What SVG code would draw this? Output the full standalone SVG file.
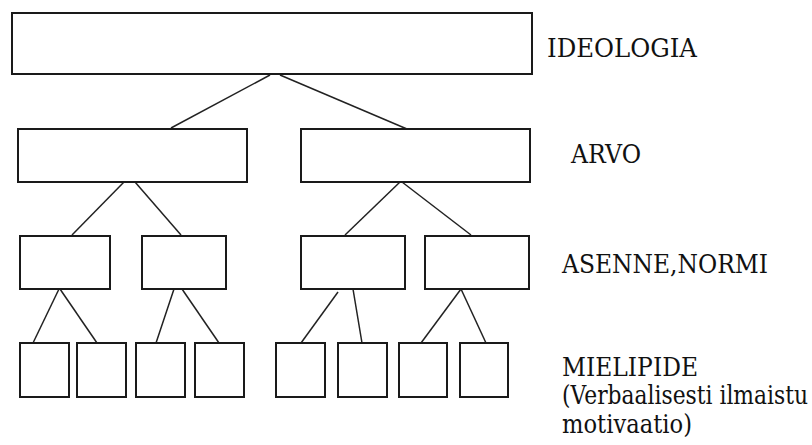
<svg xmlns="http://www.w3.org/2000/svg" width="812" height="445" viewBox="0 0 812 445">
<style>
.box{fill:#fff;stroke:#1a1a1a;stroke-width:2}
.con line{stroke:#222;stroke-width:1.5}
.lbl{font-size:26px;fill:#111}
</style>
<rect width="812" height="445" fill="#fff"/>
<g id="connectors" class="con">
<line x1="270" y1="75" x2="171" y2="128"/>
<line x1="280" y1="75" x2="407" y2="129"/>
<line x1="124" y1="182" x2="72" y2="235"/>
<line x1="135" y1="182" x2="181" y2="235"/>
<line x1="400" y1="182" x2="345" y2="235"/>
<line x1="402" y1="182" x2="471" y2="235"/>
<line x1="59" y1="289" x2="33" y2="343"/>
<line x1="60" y1="289" x2="97" y2="343"/>
<line x1="174" y1="289" x2="156" y2="343"/>
<line x1="182" y1="289" x2="219" y2="343"/>
<line x1="338" y1="292" x2="301" y2="343"/>
<line x1="353" y1="289" x2="362" y2="343"/>
<line x1="461" y1="289" x2="421" y2="343"/>
<line x1="461" y1="289" x2="486" y2="343"/>
</g>
<g id="ideologia"><rect class="box" x="12" y="13" width="520" height="61"/></g>
<g id="arvo1"><rect class="box" x="18" y="129" width="229" height="53"/></g>
<g id="arvo2"><rect class="box" x="301" y="129" width="229" height="53"/></g>
<g id="asenne1"><rect class="box" x="20" y="236" width="90" height="53"/></g>
<g id="asenne2"><rect class="box" x="142" y="236" width="84" height="53"/></g>
<g id="asenne3"><rect class="box" x="301" y="236" width="104" height="53"/></g>
<g id="asenne4"><rect class="box" x="425" y="236" width="104" height="53"/></g>
<g id="mielipide1"><rect class="box" x="20" y="343" width="49" height="54"/></g>
<g id="mielipide2"><rect class="box" x="77" y="343" width="49" height="54"/></g>
<g id="mielipide3"><rect class="box" x="136" y="343" width="49" height="54"/></g>
<g id="mielipide4"><rect class="box" x="195" y="343" width="49" height="54"/></g>
<g id="mielipide5"><rect class="box" x="276" y="343" width="49" height="54"/></g>
<g id="mielipide6"><rect class="box" x="338" y="343" width="49" height="54"/></g>
<g id="mielipide7"><rect class="box" x="399" y="343" width="48" height="54"/></g>
<g id="mielipide8"><rect class="box" x="460" y="343" width="48" height="54"/></g>
<g id="labels" font-family="'DejaVu Serif', 'Liberation Serif', serif">
<text class="lbl" x="547" y="57" textLength="150" lengthAdjust="spacingAndGlyphs">IDEOLOGIA</text>
<text class="lbl" x="571" y="163" textLength="70" lengthAdjust="spacingAndGlyphs">ARVO</text>
<text class="lbl" x="562" y="273" textLength="206" lengthAdjust="spacingAndGlyphs">ASENNE,NORMI</text>
<text class="lbl" x="562" y="376" textLength="136" lengthAdjust="spacingAndGlyphs">MIELIPIDE</text>
<text class="lbl" x="562" y="404" textLength="246" lengthAdjust="spacingAndGlyphs">(Verbaalisesti ilmaistu</text>
<text class="lbl" x="562" y="433" textLength="130" lengthAdjust="spacingAndGlyphs">motivaatio)</text>
</g>
</svg>
